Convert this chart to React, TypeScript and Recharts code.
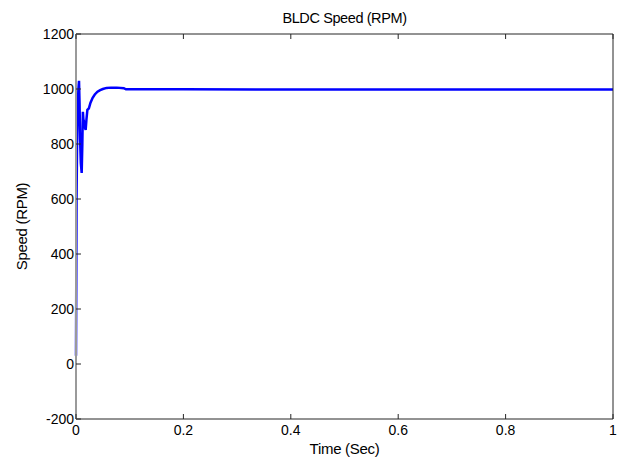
import React from 'react';
import { LineChart, Line, XAxis, YAxis } from 'recharts';

const timeSec = [0, 0.0005, 0.001, 0.002, 0.003, 0.0045, 0.0056, 0.0066, 0.0076, 0.009, 0.0106, 0.0118, 0.0128, 0.0138, 0.015, 0.0165, 0.018, 0.0195, 0.0212, 0.024, 0.027, 0.031, 0.035, 0.04, 0.045, 0.05, 0.057, 0.065, 0.076, 0.089, 0.093, 0.2, 0.4, 0.6, 0.8, 1.0];
const speedRpm = [30, 300, 600, 800, 920, 1000, 1030, 950, 820, 730, 695, 800, 917, 890, 881, 860, 851, 890, 924, 930, 950, 968, 980, 990, 996, 1000, 1004, 1005, 1005, 1003, 999, 999, 998, 998, 998, 998];
const xTicks = [0, 0.2, 0.4, 0.6, 0.8, 1];
const yTicks = [-200, 0, 200, 400, 600, 800, 1000, 1200];

const data = timeSec.map((t, i) => ({ t, s: speedRpm[i] }));

const FONT = '"Liberation Sans", Arial, Helvetica, sans-serif';
const DARK = '#262626';
const TICK = 5;

const BottomTick = (p: any) => (
  <g>
    <line x1={p.x} y1={p.y} x2={p.x} y2={p.y - TICK} stroke={DARK} strokeWidth={1} />
    <text x={p.x} y={p.y + 16} textAnchor="middle" fontSize={14} fontFamily={FONT} fill="#000">
      {String(p.payload.value)}
    </text>
  </g>
);
const TopTick = (p: any) => (
  <line x1={p.x} y1={p.y} x2={p.x} y2={p.y + TICK} stroke={DARK} strokeWidth={1} />
);
const LeftTick = (p: any) => (
  <g>
    <line x1={p.x} y1={p.y} x2={p.x + TICK} y2={p.y} stroke={DARK} strokeWidth={1} />
    <text x={p.x - 2} y={p.y + 5} textAnchor="end" fontSize={14} fontFamily={FONT} fill="#000">
      {String(p.payload.value)}
    </text>
  </g>
);
const RightTick = (p: any) => (
  <line x1={p.x} y1={p.y} x2={p.x - TICK} y2={p.y} stroke={DARK} strokeWidth={1} />
);

export default function App() {
  return (
    <div style={{ position: 'relative', width: 620, height: 451, fontFamily: FONT }}>
      <LineChart width={620} height={451} data={data} margin={{ top: 25, right: 14, bottom: 0, left: 8 }}>
        <XAxis
          xAxisId="b"
          dataKey="t"
          type="number"
          domain={[0, 1]}
          ticks={xTicks}
          orientation="bottom"
          height={40}
          tickSize={0}
          tickMargin={0}
          axisLine={{ stroke: DARK, strokeWidth: 1 }}
          tickLine={false}
          tick={BottomTick}
          label={{
            content: (p: any) => {
              const vb = p.viewBox || { x: 68, y: 411, width: 537, height: 40 };
              return (
                <text x={vb.x + vb.width / 2} y={vb.y + 29} textAnchor="middle" dominantBaseline="central" fontSize={15} fontFamily={FONT} fill="#000" letterSpacing={-0.3}>
                  Time (Sec)
                </text>
              );
            },
          }}
        />
        <XAxis
          xAxisId="t"
          dataKey="t"
          type="number"
          domain={[0, 1]}
          ticks={xTicks}
          orientation="top"
          height={1}
          tickSize={0}
          tickMargin={0}
          axisLine={{ stroke: DARK }}
          tickLine={false}
          tick={TopTick}
          label={{
            content: (p: any) => {
              const vb = p.viewBox || { x: 68, y: 25, width: 537, height: 1 };
              return (
                <text x={vb.x + vb.width / 2} y={vb.y - 15} textAnchor="middle" dominantBaseline="central" fontSize={14.5} fontFamily={FONT} fill="#000" letterSpacing={-0.4}>
                  BLDC Speed (RPM)
                </text>
              );
            },
          }}
        />
        <YAxis
          yAxisId="l"
          type="number"
          domain={[-200, 1200]}
          ticks={yTicks}
          width={60}
          tickSize={0}
          tickMargin={0}
          axisLine={{ stroke: '#9a9a9a', strokeWidth: 2 }}
          tickLine={false}
          tick={LeftTick}
          label={{
            content: (p: any) => {
              const vb = p.viewBox || { x: 8, y: 26, width: 60, height: 385 };
              const cx = vb.x + 5;
              const cy = vb.y + vb.height / 2;
              return (
                <text x={cx} y={cy} transform={`rotate(-90 ${cx} ${cy})`} textAnchor="middle" dominantBaseline="central" fontSize={15} fontFamily={FONT} fill="#000" letterSpacing={-0.3}>
                  Speed (RPM)
                </text>
              );
            },
          }}
        />
        <YAxis
          yAxisId="r"
          orientation="right"
          type="number"
          domain={[-200, 1200]}
          ticks={yTicks}
          width={1}
          tickSize={0}
          tickMargin={0}
          axisLine={{ stroke: DARK }}
          tickLine={false}
          tick={RightTick}
        />
        <Line
          xAxisId="b"
          yAxisId="l"
          type="linear"
          dataKey="s"
          stroke="#0000ff"
          strokeWidth={2.5}
          dot={false}
          activeDot={false}
          isAnimationActive={false}
        />
      </LineChart>
    </div>
  );
}
